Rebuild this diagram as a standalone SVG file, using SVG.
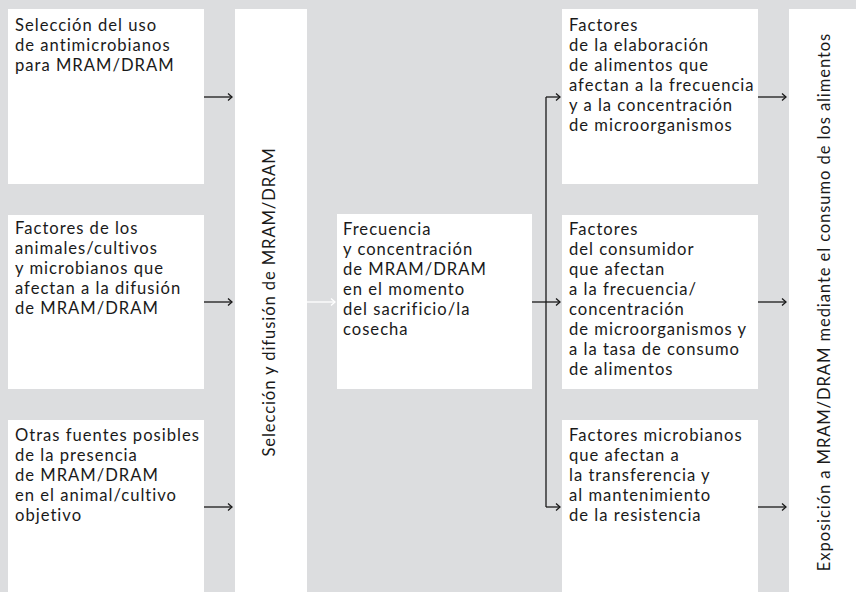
<svg xmlns="http://www.w3.org/2000/svg" width="856" height="592" viewBox="0 0 856 592">
<defs>
<style>
.bg{fill:#dcdddf}
.box{fill:#ffffff}
.t{font-family:Lato,"Open Sans",sans-serif;font-size:16.6px;letter-spacing:1px;fill:#1a1a1a}
.v{font-family:Lato,"Open Sans",sans-serif;font-size:16.6px;letter-spacing:0.9px;fill:#1a1a1a;text-anchor:middle}
.c{fill:none;stroke:#1a1a1a;stroke-width:1.3}
.w{fill:none;stroke:#ffffff;stroke-width:1.3}
</style>
<marker id="ah" markerWidth="8" markerHeight="10" refX="5" refY="4" orient="auto" markerUnits="userSpaceOnUse">
<path d="M1,0.5 L5,4 L1,7.5" fill="none" stroke="#1a1a1a" stroke-width="1.3"/>
</marker>
<marker id="ahw" markerWidth="8" markerHeight="10" refX="5" refY="4" orient="auto" markerUnits="userSpaceOnUse">
<path d="M1,0.5 L5,4 L1,7.5" fill="none" stroke="#ffffff" stroke-width="1.3"/>
</marker>
</defs>
<rect class="bg" x="0" y="0" width="856" height="592"/>
<g id="n1"><rect class="box" x="8" y="9" width="196" height="175"/>
<text class="t"><tspan x="15" y="31">Selección del uso</tspan><tspan x="15" y="51">de antimicrobianos</tspan><tspan x="15" y="71">para MRAM/DRAM</tspan></text></g>
<g id="n2"><rect class="box" x="8" y="215" width="196" height="174"/>
<text class="t"><tspan x="15" y="234">Factores de los</tspan><tspan x="15" y="254">animales/cultivos</tspan><tspan x="15" y="274">y microbianos que</tspan><tspan x="15" y="294">afectan a la difusión</tspan><tspan x="15" y="314">de MRAM/DRAM</tspan></text></g>
<g id="n3"><rect class="box" x="8" y="420" width="196" height="172"/>
<text class="t"><tspan x="15" y="441">Otras fuentes posibles</tspan><tspan x="15" y="461">de la presencia</tspan><tspan x="15" y="481">de MRAM/DRAM</tspan><tspan x="15" y="501">en el animal/cultivo</tspan><tspan x="15" y="521">objetivo</tspan></text></g>
<g id="n4"><rect class="box" x="235" y="9" width="72" height="583"/>
<text class="v" transform="translate(275,302) rotate(-90)" x="0" y="0">Selección y difusión de MRAM/DRAM</text></g>
<g id="n5"><rect class="box" x="337" y="214" width="195" height="175"/>
<text class="t"><tspan x="343" y="235">Frecuencia</tspan><tspan x="343" y="255">y concentración</tspan><tspan x="343" y="275">de MRAM/DRAM</tspan><tspan x="343" y="295">en el momento</tspan><tspan x="343" y="315">del sacrificio/la</tspan><tspan x="343" y="335">cosecha</tspan></text></g>
<g id="n6"><rect class="box" x="562" y="9" width="196" height="175"/>
<text class="t"><tspan x="569" y="31">Factores</tspan><tspan x="569" y="51">de la elaboración</tspan><tspan x="569" y="71">de alimentos que</tspan><tspan x="569" y="91">afectan a la frecuencia</tspan><tspan x="569" y="111">y a la concentración</tspan><tspan x="569" y="131">de microorganismos</tspan></text></g>
<g id="n7"><rect class="box" x="562" y="215" width="196" height="174"/>
<text class="t"><tspan x="569" y="235">Factores</tspan><tspan x="569" y="255">del consumidor</tspan><tspan x="569" y="275">que afectan</tspan><tspan x="569" y="295">a la frecuencia/</tspan><tspan x="569" y="315">concentración</tspan><tspan x="569" y="335">de microorganismos y</tspan><tspan x="569" y="355">a la tasa de consumo</tspan><tspan x="569" y="375">de alimentos</tspan></text></g>
<g id="n8"><rect class="box" x="562" y="420" width="196" height="172"/>
<text class="t"><tspan x="569" y="441">Factores microbianos</tspan><tspan x="569" y="461">que afectan a</tspan><tspan x="569" y="481">la transferencia y</tspan><tspan x="569" y="501">al mantenimiento</tspan><tspan x="569" y="521">de la resistencia</tspan></text></g>
<g id="n9"><rect class="box" x="789" y="9" width="67" height="583"/>
<text class="v" transform="translate(830,302) rotate(-90)" x="0" y="0">Exposición a MRAM/DRAM mediante el consumo de los alimentos</text></g>
<g id="connectors">
<path class="c" d="M204,97 H232" marker-end="url(#ah)"/>
<path class="c" d="M204,302 H232" marker-end="url(#ah)"/>
<path class="c" d="M204,507 H232" marker-end="url(#ah)"/>
<path class="w" d="M307,302 H335" marker-end="url(#ahw)"/>
<path class="c" d="M532,302 H560" marker-end="url(#ah)"/>
<path class="c" d="M546,97 V507"/>
<path class="c" d="M546,97 H560" marker-end="url(#ah)"/>
<path class="c" d="M546,507 H560" marker-end="url(#ah)"/>
<path class="c" d="M758,97 H786" marker-end="url(#ah)"/>
<path class="c" d="M758,302 H786" marker-end="url(#ah)"/>
<path class="c" d="M758,507 H786" marker-end="url(#ah)"/>
</g>
</svg>
